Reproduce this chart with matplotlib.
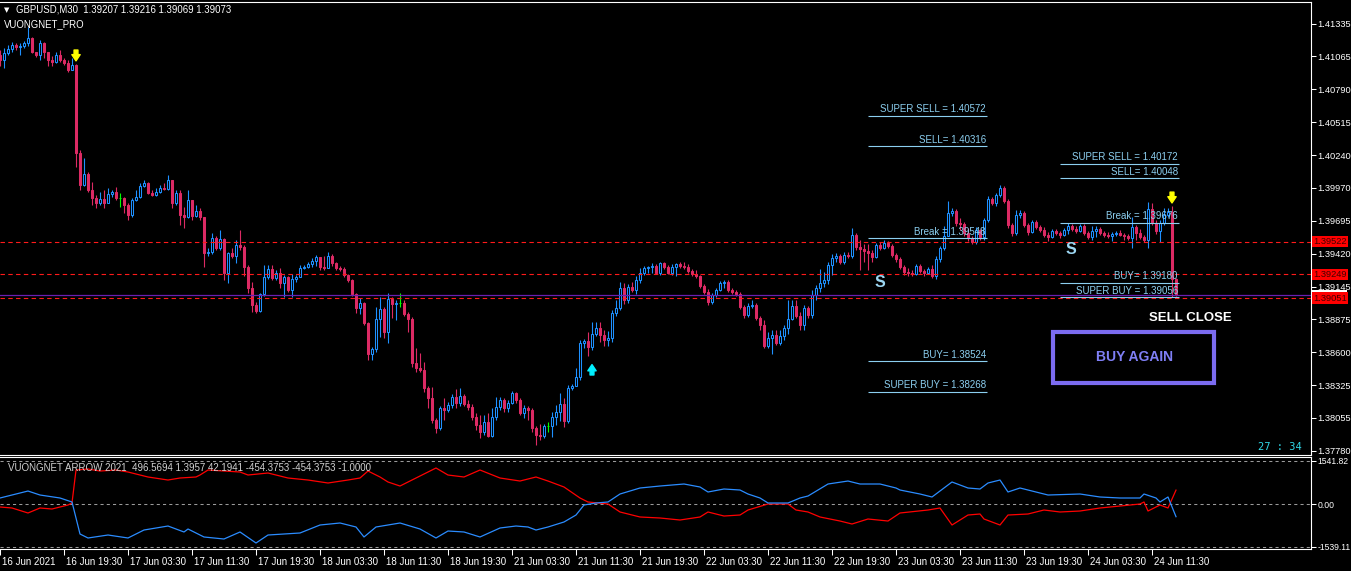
import numpy as np
import matplotlib
matplotlib.use("Agg")
import matplotlib.pyplot as plt
import matplotlib.transforms as mtransforms
from matplotlib.patches import Rectangle

plt.rcParams['font.family'] = ['Liberation Sans', 'DejaVu Sans']

symbol = "GBPUSD,M30"
indicator_title = "VUONGNET_PRO"
sub_title = "VUONGNET ARROW 2021  496.5694 1.3957 42.1941 -454.3753 -454.3753 -1.0000"

first_open = 1.41077
closes = [
    1.41035, 1.41093, 1.41127, 1.41160, 1.41143, 1.41152, 1.41177, 1.41218, 1.41102, 1.41077,
    1.41177, 1.41102, 1.41035, 1.41018, 1.41077, 1.41035, 1.41010, 1.40952, 1.40993, 1.40260,
    1.39993, 1.40085, 1.39952, 1.39885, 1.39843, 1.39877, 1.39843, 1.39918, 1.39935, 1.39885,
    1.39885, 1.39827, 1.39743, 1.39868, 1.39893, 1.39985, 1.40010, 1.39927, 1.39910, 1.39935,
    1.39968, 1.39960, 1.40035, 1.39843, 1.39927, 1.39743, 1.39727, 1.39868, 1.39735, 1.39777,
    1.39727, 1.39427, 1.39435, 1.39552, 1.39468, 1.39543, 1.39260, 1.39427, 1.39402, 1.39493,
    1.39477, 1.39310, 1.39135, 1.38993, 1.38943, 1.39085, 1.39227, 1.39293, 1.39218, 1.39260,
    1.39177, 1.39227, 1.39118, 1.39210, 1.39227, 1.39302, 1.39310, 1.39335, 1.39360, 1.39393,
    1.39310, 1.39302, 1.39402, 1.39343, 1.39302, 1.39293, 1.39243, 1.39202, 1.39085, 1.38968,
    1.39010, 1.38843, 1.38585, 1.38627, 1.38877, 1.38960, 1.38768, 1.39043, 1.39002, 1.39010,
    1.39010, 1.38918, 1.38877, 1.38510, 1.38468, 1.38452, 1.38302, 1.38218, 1.38035, 1.37968,
    1.38135, 1.38118, 1.38160, 1.38227, 1.38177, 1.38235, 1.38168, 1.38143, 1.38060, 1.37993,
    1.37935, 1.38018, 1.37902, 1.38060, 1.38143, 1.38202, 1.38135, 1.38177, 1.38260, 1.38202,
    1.38093, 1.38135, 1.38118, 1.37968, 1.37910, 1.37902, 1.37985, 1.37985, 1.38060, 1.38102,
    1.38168, 1.38027, 1.38302, 1.38318, 1.38393, 1.38677, 1.38693, 1.38643, 1.38752, 1.38802,
    1.38743, 1.38702, 1.38718, 1.38927, 1.38968, 1.39135, 1.39035, 1.39143, 1.39118, 1.39202,
    1.39260, 1.39302, 1.39310, 1.39318, 1.39260, 1.39343, 1.39310, 1.39260, 1.39310, 1.39335,
    1.39318, 1.39310, 1.39277, 1.39252, 1.39235, 1.39152, 1.39102, 1.39018, 1.39077, 1.39118,
    1.39177, 1.39185, 1.39118, 1.39102, 1.39085, 1.38977, 1.38910, 1.38985, 1.38993, 1.38885,
    1.38827, 1.38652, 1.38718, 1.38743, 1.38677, 1.38735, 1.38802, 1.38877, 1.38985, 1.38902,
    1.38827, 1.38968, 1.38910, 1.39077, 1.39135, 1.39177, 1.39202, 1.39327, 1.39385, 1.39402,
    1.39352, 1.39410, 1.39402, 1.39577, 1.39477, 1.39460, 1.39443, 1.39427, 1.39393, 1.39493,
    1.39468, 1.39510, 1.39485, 1.39410, 1.39377, 1.39310, 1.39268, 1.39260, 1.39252, 1.39318,
    1.39277, 1.39260, 1.39293, 1.39235, 1.39377, 1.39468, 1.39568, 1.39760, 1.39777, 1.39677,
    1.39668, 1.39593, 1.39552, 1.39518, 1.39618, 1.39560, 1.39702, 1.39877, 1.39843, 1.39910,
    1.39968, 1.39860, 1.39660, 1.39593, 1.39743, 1.39760, 1.39660, 1.39602, 1.39685, 1.39643,
    1.39618, 1.39577, 1.39560, 1.39610, 1.39593, 1.39577, 1.39618, 1.39652, 1.39627, 1.39610,
    1.39652, 1.39593, 1.39560, 1.39610, 1.39627, 1.39593, 1.39577, 1.39568, 1.39585, 1.39593,
    1.39577, 1.39568, 1.39552, 1.39643, 1.39593, 1.39560, 1.39535, 1.39793, 1.39677, 1.39610,
    1.39677, 1.39743, 1.39768, 1.39207, 1.39073,
]
highs = [
    1.41118, 1.41135, 1.41160, 1.41185, 1.41177, 1.41177, 1.41193, 1.41310, 1.41227, 1.41102,
    1.41202, 1.41185, 1.41102, 1.41068, 1.41102, 1.41118, 1.41052, 1.41035, 1.41052, 1.41002,
    1.40285, 1.40218, 1.40102, 1.40018, 1.39910, 1.39935, 1.39952, 1.39968, 1.39952, 1.39977,
    1.39927, 1.39893, 1.39843, 1.39885, 1.39952, 1.40010, 1.40035, 1.40018, 1.39952, 1.39968,
    1.39993, 1.40010, 1.40077, 1.40035, 1.39952, 1.39952, 1.39810, 1.39952, 1.39868, 1.39827,
    1.39802, 1.39727, 1.39468, 1.39593, 1.39568, 1.39618, 1.39552, 1.39435, 1.39468, 1.39535,
    1.39618, 1.39493, 1.39327, 1.39185, 1.39018, 1.39093, 1.39327, 1.39327, 1.39327, 1.39285,
    1.39302, 1.39243, 1.39235, 1.39252, 1.39243, 1.39327, 1.39327, 1.39352, 1.39385, 1.39410,
    1.39393, 1.39402, 1.39435, 1.39418, 1.39352, 1.39318, 1.39310, 1.39252, 1.39210, 1.39093,
    1.39052, 1.39018, 1.38852, 1.38643, 1.38977, 1.39060, 1.38977, 1.39093, 1.39060, 1.39035,
    1.39093, 1.39035, 1.38935, 1.38893, 1.38635, 1.38593, 1.38518, 1.38318, 1.38310, 1.38052,
    1.38152, 1.38218, 1.38185, 1.38252, 1.38293, 1.38302, 1.38252, 1.38202, 1.38168, 1.38093,
    1.38077, 1.38077, 1.38093, 1.38135, 1.38227, 1.38227, 1.38218, 1.38202, 1.38277, 1.38268,
    1.38218, 1.38160, 1.38152, 1.38135, 1.37985, 1.38002, 1.38002, 1.38018, 1.38102, 1.38160,
    1.38260, 1.38218, 1.38327, 1.38335, 1.38468, 1.38702, 1.38710, 1.38768, 1.38852, 1.38852,
    1.38852, 1.38785, 1.38777, 1.38952, 1.39035, 1.39185, 1.39177, 1.39168, 1.39185, 1.39235,
    1.39302, 1.39318, 1.39318, 1.39343, 1.39335, 1.39352, 1.39352, 1.39327, 1.39335, 1.39343,
    1.39352, 1.39352, 1.39335, 1.39293, 1.39285, 1.39243, 1.39168, 1.39127, 1.39093, 1.39135,
    1.39193, 1.39202, 1.39202, 1.39135, 1.39118, 1.39102, 1.38993, 1.39010, 1.39035, 1.39010,
    1.38902, 1.38868, 1.38768, 1.38785, 1.38785, 1.38785, 1.38827, 1.39035, 1.39035, 1.39035,
    1.38935, 1.38993, 1.38985, 1.39118, 1.39160, 1.39293, 1.39268, 1.39352, 1.39418, 1.39427,
    1.39418, 1.39435, 1.39435, 1.39635, 1.39593, 1.39535, 1.39502, 1.39502, 1.39452, 1.39510,
    1.39518, 1.39535, 1.39527, 1.39502, 1.39427, 1.39393, 1.39327, 1.39302, 1.39285, 1.39335,
    1.39335, 1.39293, 1.39310, 1.39327, 1.39402, 1.39485, 1.39652, 1.39860, 1.39802, 1.39793,
    1.39718, 1.39685, 1.39635, 1.39568, 1.39643, 1.39627, 1.39718, 1.39902, 1.39893, 1.39927,
    1.39993, 1.39985, 1.39877, 1.39677, 1.39785, 1.39785, 1.39777, 1.39677, 1.39702, 1.39702,
    1.39660, 1.39643, 1.39602, 1.39627, 1.39627, 1.39610, 1.39635, 1.39677, 1.39668, 1.39652,
    1.39668, 1.39668, 1.39610, 1.39652, 1.39652, 1.39643, 1.39610, 1.39602, 1.39602, 1.39610,
    1.39618, 1.39593, 1.39585, 1.39727, 1.39660, 1.39627, 1.39577, 1.39852, 1.39843, 1.39702,
    1.39702, 1.39802, 1.39802, 1.39818, 1.39216,
]
lows = [
    1.40985, 1.40968, 1.41077, 1.41102, 1.41118, 1.41077, 1.41135, 1.41152, 1.41093, 1.41060,
    1.41035, 1.41052, 1.40985, 1.40985, 1.41010, 1.41018, 1.40993, 1.40935, 1.40952, 1.40143,
    1.39952, 1.39985, 1.39935, 1.39827, 1.39802, 1.39827, 1.39802, 1.39843, 1.39893, 1.39868,
    1.39810, 1.39760, 1.39702, 1.39727, 1.39860, 1.39885, 1.39977, 1.39918, 1.39902, 1.39902,
    1.39927, 1.39952, 1.39952, 1.39802, 1.39827, 1.39660, 1.39635, 1.39718, 1.39702, 1.39727,
    1.39702, 1.39310, 1.39402, 1.39418, 1.39452, 1.39452, 1.39202, 1.39177, 1.39385, 1.39343,
    1.39452, 1.39235, 1.39093, 1.38935, 1.38927, 1.38935, 1.39068, 1.39210, 1.39202, 1.39202,
    1.39135, 1.39060, 1.39102, 1.39060, 1.39185, 1.39227, 1.39293, 1.39302, 1.39310, 1.39318,
    1.39285, 1.39285, 1.39302, 1.39318, 1.39285, 1.39277, 1.39227, 1.39185, 1.39068, 1.38927,
    1.38918, 1.38827, 1.38535, 1.38535, 1.38602, 1.38727, 1.38718, 1.38677, 1.38885, 1.38868,
    1.38977, 1.38902, 1.38768, 1.38477, 1.38435, 1.38435, 1.38268, 1.38135, 1.38010, 1.37927,
    1.37952, 1.38035, 1.38102, 1.38135, 1.38135, 1.38152, 1.38152, 1.38118, 1.38035, 1.37952,
    1.37885, 1.37910, 1.37893, 1.37893, 1.38035, 1.38118, 1.38102, 1.38102, 1.38168, 1.38177,
    1.38077, 1.38052, 1.38035, 1.37935, 1.37827, 1.37868, 1.37885, 1.37935, 1.37893, 1.37993,
    1.38027, 1.37977, 1.38010, 1.38285, 1.38352, 1.38368, 1.38635, 1.38568, 1.38618, 1.38735,
    1.38685, 1.38652, 1.38652, 1.38685, 1.38902, 1.38952, 1.39002, 1.39010, 1.39102, 1.39085,
    1.39177, 1.39243, 1.39260, 1.39260, 1.39252, 1.39243, 1.39293, 1.39252, 1.39243, 1.39235,
    1.39302, 1.39293, 1.39260, 1.39235, 1.39218, 1.39135, 1.39085, 1.38993, 1.39002, 1.39060,
    1.39110, 1.39135, 1.39102, 1.39085, 1.39068, 1.38960, 1.38885, 1.38893, 1.38968, 1.38868,
    1.38785, 1.38635, 1.38635, 1.38585, 1.38660, 1.38660, 1.38702, 1.38752, 1.38868, 1.38885,
    1.38785, 1.38785, 1.38885, 1.38885, 1.39035, 1.39102, 1.39143, 1.39168, 1.39243, 1.39352,
    1.39335, 1.39335, 1.39385, 1.39385, 1.39452, 1.39285, 1.39352, 1.39285, 1.39352, 1.39385,
    1.39452, 1.39460, 1.39468, 1.39393, 1.39352, 1.39293, 1.39243, 1.39235, 1.39235, 1.39243,
    1.39260, 1.39235, 1.39252, 1.39218, 1.39210, 1.39352, 1.39452, 1.39602, 1.39735, 1.39652,
    1.39618, 1.39568, 1.39527, 1.39502, 1.39502, 1.39535, 1.39535, 1.39685, 1.39827, 1.39818,
    1.39893, 1.39843, 1.39635, 1.39568, 1.39577, 1.39718, 1.39643, 1.39577, 1.39593, 1.39627,
    1.39602, 1.39560, 1.39527, 1.39552, 1.39577, 1.39552, 1.39568, 1.39585, 1.39610, 1.39593,
    1.39602, 1.39577, 1.39543, 1.39535, 1.39560, 1.39577, 1.39560, 1.39552, 1.39527, 1.39568,
    1.39568, 1.39535, 1.39535, 1.39468, 1.39535, 1.39543, 1.39518, 1.39468, 1.39660, 1.39585,
    1.39518, 1.39660, 1.39727, 1.39060, 1.39069,
]
doji_bars = [30, 100, 137]

tick_bars = [0, 16, 32, 48, 64, 80, 96, 112, 128, 144, 160, 176, 192, 208, 224, 240, 256, 272, 288]
tick_labels = ["16 Jun 2021", "16 Jun 19:30", "17 Jun 03:30", "17 Jun 11:30", "17 Jun 19:30",
               "18 Jun 03:30", "18 Jun 11:30", "18 Jun 19:30", "21 Jun 03:30", "21 Jun 11:30",
               "21 Jun 19:30", "22 Jun 03:30", "22 Jun 11:30", "22 Jun 19:30", "23 Jun 03:30",
               "23 Jun 11:30", "23 Jun 19:30", "24 Jun 03:30", "24 Jun 11:30"]

price_ticks = [1.41335, 1.41065, 1.40790, 1.40515, 1.40240, 1.39970, 1.39695,
               1.39420, 1.39145, 1.38875, 1.38600, 1.38325, 1.38055, 1.37780]

red_lines = [1.39522, 1.39249, 1.39051]
bid_price = 1.39073

level_names = ["SUPER SELL = ", "SELL= ", "Break = ", "BUY= ", "SUPER BUY = "]
levels_old = [1.40572, 1.40316, 1.39548, 1.38524, 1.38268]
levels_new = [1.40172, 1.40048, 1.39676, 1.39180, 1.39056]

sell_arrow_bars = [19, 293]
buy_arrow_bars = [148]
s_marks = [(220, 1.39177), (267.75, 1.39452)]
timer_text = "27 : 34"

ind_red_bars = [0, 3, 7, 10, 13, 15, 17, 18, 19, 22, 25, 29, 32, 37, 42, 45, 49, 50, 52, 56,
                60, 62, 67, 72, 77, 82, 87, 90, 92, 95, 97, 100, 104, 109, 112, 116, 120, 125, 130, 134,
                137, 141, 145, 147, 152, 155, 160, 165, 170, 175, 177, 181, 185, 187, 192, 197, 199, 202, 205, 210,
                213, 217, 222, 225, 232, 235, 238, 242, 245, 246, 250, 252, 257, 261, 265, 270, 275, 280, 285, 286,
                287, 290, 292, 294]
ind_red = [-107, -143, -322, -143, -179, -107, -36, 36, 1217, 1253, 1181, 1217, 1146, 967, 859, 931, 967, 1038, 1217, 1181,
           1146, 1038, 1110, 931, 859, 752, 859, 931, 1181, 967, 788, 644, 931, 1289, 1038, 967, 1217, 931, 823, 967,
           823, 609, 215, 72, 0, -286, -465, -501, -573, -465, -286, -430, -394, -215, 0, 0, -215, -286, -465, -609,
           -716, -537, -609, -322, -215, -143, -752, -394, -358, -537, -752, -394, -358, -215, -286, -251, -143, -72, 0, 72,
           -251, -36, -143, 497]
ind_blue_bars = [0, 7, 10, 15, 18, 20, 22, 27, 32, 36, 42, 46, 47, 51, 56, 60, 64, 67, 75, 80,
                 85, 89, 91, 94, 100, 105, 109, 112, 116, 120, 125, 129, 132, 134, 137, 141, 144, 146, 149, 152,
                 155, 160, 165, 171, 175, 177, 181, 185, 187, 190, 192, 197, 200, 202, 207, 212, 215, 220, 224, 225,
                 230, 233, 238, 242, 245, 247, 250, 252, 255, 257, 262, 270, 275, 280, 285, 286, 289, 290, 292, 294]
ind_blue = [215, 465, 322, 215, 72, -1074, -1217, -1110, -1217, -931, -788, -1002, -895, -1181, -1253, -1002, -1396, -1110, -1038, -752,
            -680, -823, -1181, -823, -680, -895, -1217, -967, -1002, -1181, -859, -788, -823, -931, -823, -644, -394, -36, 36, 72,
            358, 573, 644, 716, 609, 430, 537, 501, 358, 215, 36, 36, 215, 286, 716, 823, 716, 716, 573, 501,
            358, 251, 788, 573, 537, 752, 859, 430, 573, 501, 322, 358, 251, 215, 215, 358, 215, 72, 251, -454]
ind_top = 1541.82
ind_bottom = -1539.11

BULL = '#1e90ff'
BEAR = '#dc2a64'
DOJI = '#00ff00'
LEVEL = '#8ccff0'
W, H = 1351, 571

fig = plt.figure(figsize=(W / 100, H / 100), dpi=100, facecolor='black')
ax = fig.add_axes([0, 1 - 455 / H, 1311 / W, 453 / H])
ax2 = fig.add_axes([0, 1 - 549 / H, 1311 / W, 92 / H], sharex=ax)

for a in (ax, ax2):
    a.set_facecolor('black')
    for side in ('top', 'bottom', 'right'):
        a.spines[side].set_color('white')
        a.spines[side].set_linewidth(0.8)
    a.spines['left'].set_visible(False)
    a.yaxis.tick_right()
    a.tick_params(axis='y', colors='white', length=3.5, width=0.75, labelsize=6.7, pad=1.2)

ax.set_xlim(0, 1311 / 4)
ax.set_ylim(1.37743, 1.41518)

# candles
x = np.arange(len(closes))
opens = np.array([first_open] + closes[:-1])
c = np.array(closes)
colors = []
for i in range(len(c)):
    if i in doji_bars:
        colors.append(DOJI)
    elif c[i] > opens[i]:
        colors.append(BULL)
    else:
        colors.append(BEAR)
hi = np.maximum(np.array(highs), np.maximum(opens, c))
lo = np.minimum(np.array(lows), np.minimum(opens, c))
ax.vlines(x, lo, hi, colors=colors, lw=0.8, zorder=2)
faces = ['black' if col == BULL else col for col in colors]
ax.bar(x, c - opens, bottom=opens, width=0.5, color=faces, edgecolor=colors, linewidth=0.75, zorder=3)

# horizontal lines
for p in red_lines:
    ax.axhline(p, color='#ff1a1a', lw=0.8, ls=(0, (4, 3)), zorder=4)
ax.axhline(bid_price, color='#6a1fb0', lw=0.9, zorder=4)

for levels, (x0, x1) in ((levels_old, (217, 246.75)), (levels_new, (265, 294.75))):
    for name, p in zip(level_names, levels):
        ax.hlines(p, x0, x1, color=LEVEL, lw=0.8, zorder=5)
        ax.annotate(f"{name}{p:.5f}", (x1 - 0.3, p), xytext=(0, 1.2), textcoords='offset points',
                    ha='right', va='bottom', color=LEVEL, fontsize=7, zorder=6)

for bx, by in s_marks:
    ax.text(bx, by, "S", color='#9cd6f2', fontsize=11.5, fontweight='bold', ha='center', va='center', zorder=6)

arrow_style = 'simple,head_width=0.6,head_length=0.45,tail_width=0.28'
for b in sell_arrow_bars:
    ax.annotate("", xy=(b, hi[b]), xytext=(0, 10), textcoords='offset points',
                arrowprops=dict(arrowstyle=arrow_style, color='#ffff00', shrinkA=0, shrinkB=2.2), zorder=6)
for b in buy_arrow_bars:
    ax.annotate("", xy=(b, lo[b]), xytext=(0, -18), textcoords='offset points',
                arrowprops=dict(arrowstyle=arrow_style, color='#00f0ff', shrinkA=0, shrinkB=10.5), zorder=6)

ax.text(297.5, 1.38885, "SELL CLOSE", color='white', fontsize=9.5, fontweight='bold', ha='center', va='center')
ax.add_patch(Rectangle((263.25, 1.38343), 40.25, 0.00425, fill=False, edgecolor='#7c6cf0', lw=3, zorder=6))
ax.text(283.6, 1.38558, "BUY AGAIN", color='#7f7ff5', fontsize=10, fontweight='bold', ha='center', va='center')
ax.text(325.5, 1.37810, timer_text, color='#30d8e8', fontsize=7.5, family='DejaVu Sans Mono', ha='right', va='center')

# right price axis
ax.set_yticks(price_ticks)
ax.set_yticklabels([f"{p:.5f}" for p in price_ticks])
ax.tick_params(axis='x', bottom=False, labelbottom=False)
side = mtransforms.blended_transform_factory(ax.transAxes, ax.transData)
ax.text(1.0012, bid_price, f"{bid_price:.5f}", transform=side, ha='left', va='center', fontsize=6.7,
        color='black', clip_on=False, bbox=dict(boxstyle='square,pad=0.12', fc='white', ec='none'), zorder=7)
for p in red_lines:
    ax.text(1.0015, p, f"{p:.5f}", transform=side, ha='left', va='center', fontsize=6.7, color='#400000',
            clip_on=False, bbox=dict(boxstyle='square,pad=0.12', fc='#ff0000', ec='none'), zorder=8)

# indicator panel
ax2.set_ylim(-1611, 1683)
for v in (ind_top, 0, ind_bottom):
    ax2.axhline(v, color='#9a9a9a', lw=0.75, ls=(0, (3, 3)))
ax2.plot(ind_red_bars, ind_red, color='#ff0000', lw=0.9)
ax2.plot(ind_blue_bars, ind_blue, color='#2b8cff', lw=0.9)
ax2.set_yticks([ind_top, 0, ind_bottom])
ax2.set_yticklabels([f"{ind_top:.2f}", "0.00", f"{ind_bottom:.2f}"])
ax2.tick_params(axis='y', labelsize=6.2, pad=1.0)
ax2.text(0.006, 0.885, sub_title, transform=ax2.transAxes, color='#d0d0d0', fontsize=7, ha='left', va='center')

ax2.set_xticks(tick_bars)
ax2.set_xticklabels(tick_labels)
ax2.tick_params(axis='x', colors='white', length=4, width=0.75, labelsize=7, pad=1.5)
shift = mtransforms.ScaledTranslation(2 / 100, 0, fig.dpi_scale_trans)
for lab in ax2.get_xticklabels():
    lab.set_horizontalalignment('left')
    lab.set_transform(lab.get_transform() + shift)

# header
fig.text(4 / W, 1 - 10 / H, "▼", color='white', fontsize=5, family='DejaVu Sans', ha='left', va='center')
fig.text(16 / W, 1 - 10 / H,
         f"{symbol}  {opens[-1]:.5f} {highs[-1]:.5f} {lows[-1]:.5f} {closes[-1]:.5f}",
         color='white', fontsize=6.9, ha='left', va='center')
fig.text(4 / W, 1 - 24 / H, indicator_title, color='white', fontsize=6.9, ha='left', va='center')

fig.savefig("out.png", dpi=100, facecolor='black')
